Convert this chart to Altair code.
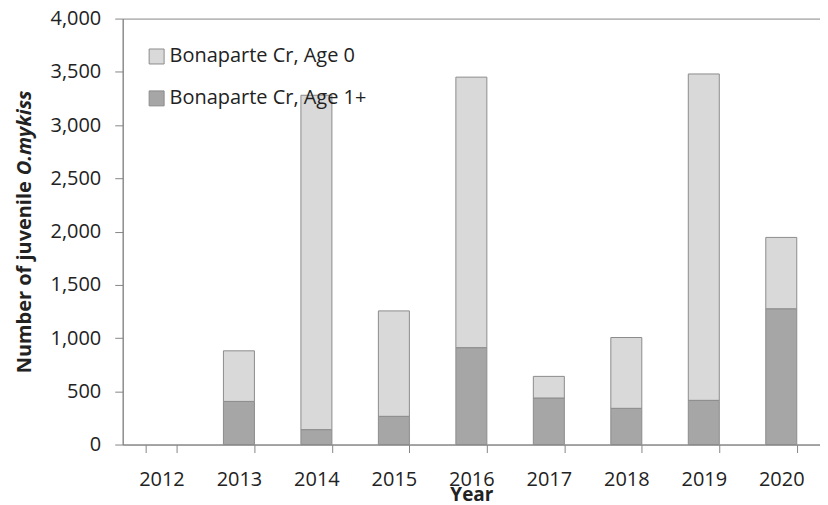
import altair as alt
import pandas as pd

years = ["2012", "2013", "2014", "2015", "2016", "2017", "2018", "2019", "2020"]
age0 = [0, 475, 3140, 990, 2540, 203, 665, 3065, 670]
age1 = [0, 405, 140, 265, 910, 437, 340, 415, 1275]
series_names = ["Bonaparte Cr, Age 0", "Bonaparte Cr, Age 1+"]
series_colors = ["#d9d9d9", "#a6a6a6"]
y_ticks = [0, 500, 1000, 1500, 2000, 2500, 3000, 3500, 4000]
title_main = "Number of juvenile"
title_ital = "O.mykiss"
x_title = "Year"

rows = []
for i, yr in enumerate(years):
    rows.append({"Year": yr, "Series": series_names[1], "Count": age1[i], "Stack": 0})
    rows.append({"Year": yr, "Series": series_names[0], "Count": age0[i], "Stack": 1})
df = pd.DataFrame(rows)

FONT = "Open Sans"
TXT = "#222222"
GRAY = "#868686"
FS = 20

bars = alt.Chart(df).transform_filter("datum.Count > 0").mark_bar(
    stroke="#8c8c8c", strokeWidth=1
).encode(
    x=alt.X("Year:N", scale=alt.Scale(domain=years, paddingInner=0.6, paddingOuter=0.3),
            axis=alt.Axis(tickBand="extent", tickSize=8, labelAngle=0, labelPadding=17,
                          labelFontSize=FS, labelFont=FONT, labelColor=TXT,
                          title=x_title, titleFont=FONT, titleFontSize=19, titleFontWeight="bold",
                          titleColor=TXT, titlePadding=-4)),
    y=alt.Y("Count:Q", stack="zero", scale=alt.Scale(domain=[0, 4000], nice=False),
            axis=alt.Axis(values=y_ticks, format=",.0f", grid=False, tickSize=8, labelPadding=14,
                          labelFontSize=FS, labelFont=FONT, labelColor=TXT, title=None)),
    color=alt.Color("Series:N", scale=alt.Scale(domain=series_names, range=series_colors),
                    legend=alt.Legend(orient="none", legendX=24, legendY=28, title=None,
                                      symbolType="square", symbolSize=225,
                                      symbolStrokeColor="#8c8c8c", symbolStrokeWidth=1,
                                      labelFontSize=FS, labelFont=FONT, labelColor=TXT,
                                      labelLimit=400,
                                      rowPadding=22, padding=0, labelOffset=3)),
    order=alt.Order("Stack:Q", sort="ascending"),
)

t1 = alt.Chart(pd.DataFrame({"t": [title_main]})).mark_text(
    angle=270, align="right", baseline="middle", font=FONT, fontSize=20,
    fontWeight="bold", color=TXT
).encode(text="t:N", x=alt.value(-98), y=alt.value(163))

t2 = alt.Chart(pd.DataFrame({"t": [title_ital]})).mark_text(
    angle=270, align="left", baseline="middle", font=FONT, fontSize=20,
    fontWeight="bold", fontStyle="italic", color=TXT
).encode(text="t:N", x=alt.value(-98), y=alt.value(157))

chart = alt.layer(bars, t1, t2).properties(
    width=699, height=427,
    autosize=alt.AutoSizeParams(type="none"),
    padding={"left": 115, "top": 10, "right": 0, "bottom": 60},
).configure_view(stroke=GRAY, strokeWidth=1).configure_axis(
    domainColor=GRAY, tickColor=GRAY, domainWidth=1, tickWidth=1
)

chart.save("out.html", embed_options={"renderer": "svg", "actions": False})
